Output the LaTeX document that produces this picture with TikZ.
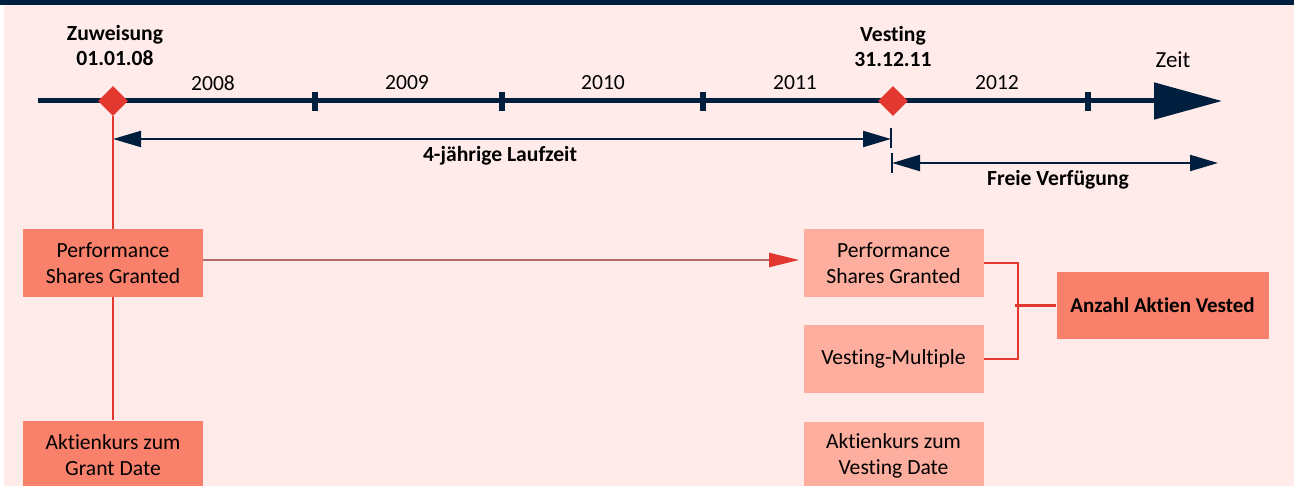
\documentclass[tikz,border=0pt]{standalone}
\usepackage{fontspec}
\setmainfont{Carlito}[Ligatures=NoCommon]
\usepackage{xcolor}
\usepackage{tikz}
\definecolor{vnavy}{RGB}{0,31,63}
\definecolor{vpink}{RGB}{255,235,234}
\definecolor{vred}{RGB}{226,56,47}
\definecolor{vsalmon}{RGB}{249,128,106}
\definecolor{vlight}{RGB}{253,174,158}
\definecolor{vgrey}{RGB}{180,105,110}
\usetikzlibrary{arrows.meta,positioning,shapes.geometric}

\begin{document}
\begin{tikzpicture}[x=0.5pt, y=-0.5pt,
    grantbox/.style={rectangle, fill=vsalmon, minimum width=90pt, minimum height=34pt, inner sep=0pt, align=center, font=\fontsize{10.8}{13}\selectfont},
    vestbox/.style={grantbox, fill=vlight},
    datemark/.style={diamond, fill=vred, minimum width=15pt, minimum height=15pt, inner sep=0pt},
    yearlabel/.style={font=\fontsize{10.8}{11}\selectfont},
    headlabel/.style={align=center, font=\bfseries\fontsize{10.8}{12.5}\selectfont},
    spanline/.style={vnavy, line width=1.1pt, {Triangle[length=14pt,width=8pt]}-{Triangle[length=14pt,width=8pt]}},
    redline/.style={vred, line width=1.2pt}]
    \useasboundingbox (0,0) rectangle (1294,486);
    \fill[vpink] (0,0) rectangle (1294,486);
    \fill[white] (0,0) rectangle (4,486);
    \fill[vnavy] (0,0) rectangle (1294,5);

    \coordinate (tstart) at (38,101);
    \coordinate (tend) at (1222,101);
    \draw[vnavy, line width=2.5pt, -{Triangle[length=34pt,width=18pt]}] (tstart) -- (tend);
    \foreach \x in {315,502,703,1088}
        \draw[vnavy, line width=2.8pt] (\x,92) -- (\x,111);

    \node[yearlabel] (y2008) at (213,83) {2008};
    \node[yearlabel] (y2009) at (407,83) {2009};
    \node[yearlabel] (y2010) at (603,83) {2010};
    \node[yearlabel] (y2011) at (795,83) {2011};
    \node[yearlabel] (y2012) at (997,83) {2012};
    \node[yearlabel, font=\fontsize{11.5}{11}\selectfont] (zeit) at (1173,60) {Zeit};

    \node[headlabel] (zuweisung) at (115,46) {Zuweisung\\01.01.08};
    \node[headlabel] (vesting) at (893,46) {Vesting\\31.12.11};

    \node[datemark] (gdate) at (113,101) {};
    \node[datemark] (vdate) at (893,101) {};

    \coordinate (runA) at (113,139);
    \coordinate (runB) at (891,139);
    \coordinate (freeA) at (892,163);
    \coordinate (freeB) at (1218,163);
    \draw[spanline] (runA) -- (runB);
    \draw[spanline] (freeA) -- (freeB);
    \draw[vnavy, line width=1.1pt] (113,128) -- (113,148);
    \draw[vnavy, line width=1.1pt] (891,128) -- (891,148);
    \draw[vnavy, line width=1.1pt] (892,153) -- (892,173);
    \node[headlabel] (runtime) at (500,156) {4-jährige Laufzeit};
    \node[headlabel] (free) at (1058,180) {Freie Verfügung};

    \node[grantbox] (gpsg) at (113,263) {Performance\\Shares Granted};
    \node[grantbox, below=61.5pt of gpsg] (gprice) {Aktienkurs zum\\Grant Date};
    \node[vestbox] (vpsg) at (893.5,263) {Performance\\Shares Granted};
    \node[vestbox, below=13.5pt of vpsg] (vmult) {Vesting-Multiple};
    \node[vestbox, below=14pt of vmult] (vprice) {Aktienkurs zum\\Vesting Date};
    \node[grantbox, minimum width=106pt, minimum height=33.5pt, font=\bfseries\fontsize{10.5}{13}\selectfont] (vested) at (1162.5,305.5) {Anzahl Aktien Vested};

    \draw[redline] (gdate) -- (gpsg);
    \draw[redline] (gpsg) -- (gprice);
    \draw[vgrey, line width=1pt, shorten >=2pt, -{Triangle[length=15pt,width=7pt,color=vred]}] ([yshift=1.5pt]gpsg.east) -- ([yshift=1.5pt]vpsg.west);
    \draw[redline] (vpsg.east) -- ++(34,0) |- (vmult.east);
    \draw[redline] (vested.west) -- ++(-41,0);
\end{tikzpicture}
\end{document}
